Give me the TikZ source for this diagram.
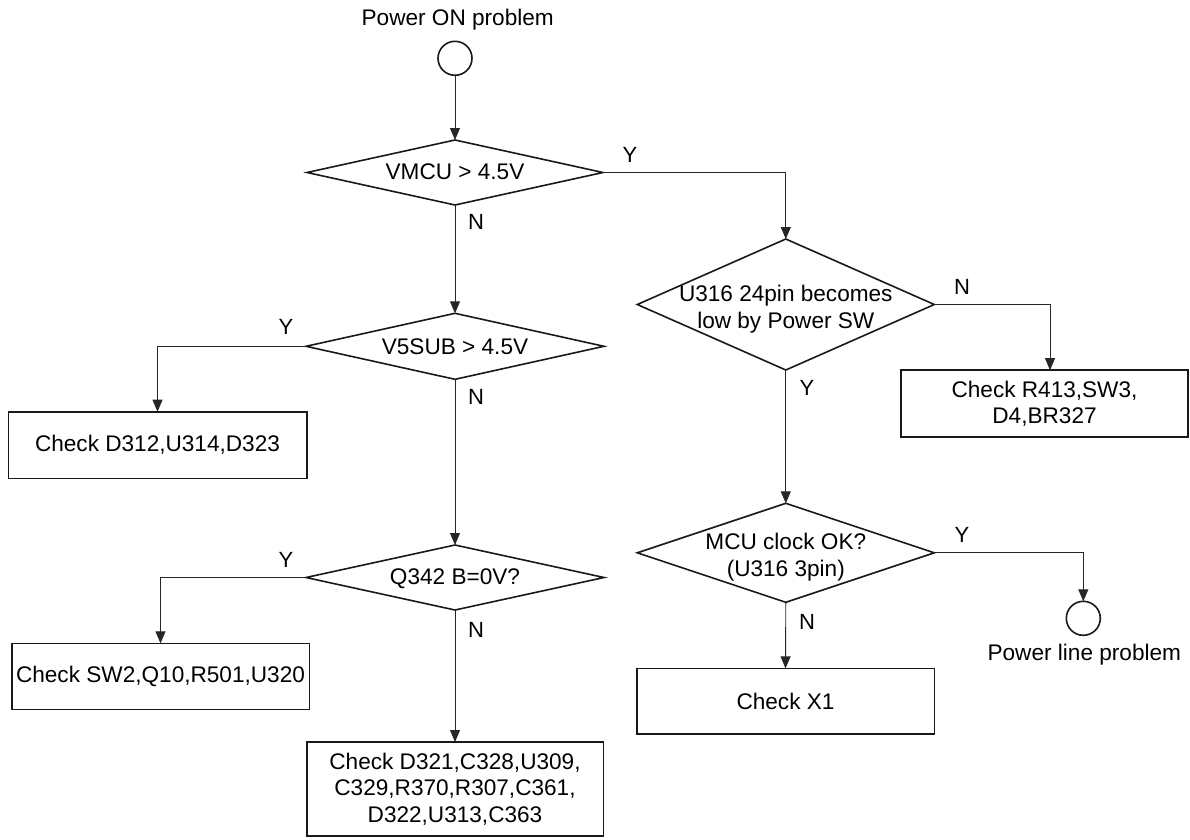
\documentclass[tikz,border=0pt]{standalone}
\usepackage{fontspec}
\setmainfont{Liberation Sans}
\usetikzlibrary{shapes.geometric,arrows.meta}
\newcommand\myfs{\fontsize{22.6}{26.5}\selectfont}
\newcommand\mylbl{\fontsize{22}{26}\selectfont}
\begin{document}
\begin{tikzpicture}[x=1pt,y=-1pt,
  base/.style={draw=black!90, line width=1.6pt, outer sep=0pt, inner sep=0pt},
  dia/.style={base, diamond},
  box/.style={base, rectangle, align=center, font=\myfs},
  term/.style={base, circle, minimum size=34},
  txt/.style={align=center, font=\myfs, inner sep=0pt},
  lbl/.style={font=\mylbl, inner sep=0pt},
  arr/.style={draw=black!85, line width=0.9pt, -{Triangle[length=12pt,width=10pt]}}]
\useasboundingbox (0,0) rectangle (1190,839);
% terminals
\node[txt] (tstart) at (457.7,20) {Power ON problem};
\node[term] (start) at (455,58.3) {};
\node[term] (endp) at (1083.3,618.3) {};
\node[txt] (tend) at (1084.3,655) {Power line problem};
% decisions
\node[dia, minimum width=296, minimum height=65] (d1) at (455,172.5) {};
\node[txt] (t1) at (455,172) {VMCU > 4.5V};
\node[dia, minimum width=297, minimum height=131] (d2) at (785.8,304.5) {};
\node[txt] (t2) at (785.8,309) {U316 24pin becomes\\low by Power SW};
\node[dia, minimum width=298, minimum height=66] (d3) at (455,346.3) {};
\node[txt] (t3) at (455,346.7) {V5SUB > 4.5V};
\node[dia, minimum width=298, minimum height=65] (d4) at (455,577.5) {};
\node[txt] (t4) at (455,578.3) {Q342 B=0V?};
\node[dia, minimum width=297, minimum height=99] (d5) at (785.8,552.8) {};
\node[txt] (t5) at (785.8,557.3) {MCU clock OK?\\(U316 3pin)};
% process boxes
\node[box, minimum width=298.4, minimum height=66.6] (b1) at (157.5,445) {Check D312,U314,D323};
\node[box, minimum width=297.6, minimum height=66] (b2) at (160.5,676.3) {Check SW2,Q10,R501,U320};
\node[box, minimum width=296.6, minimum height=94] (b3) at (455,789) {Check D321,C328,U309,\\C329,R370,R307,C361,\\D322,U313,C363};
\node[box, minimum width=287, minimum height=66.7] (b4) at (1044.5,403.5) {Check R413,SW3,\\D4,BR327};
\node[box, minimum width=297.6, minimum height=65.7] (b5) at (785.5,701.2) {Check X1};
% connectors
\draw[arr] (start.south) -- (d1.north);
\draw[arr] (d1.east) -| (d2.north);
\draw[arr] (d1.south) -- (d3.north);
\draw[arr] (d3.west) -| (b1.north);
\draw[arr] (d3.south) -- (d4.north);
\draw[arr] (d4.west) -| (b2.north);
\draw[arr] (d4.south) -- (b3.north);
\draw[arr] (d2.east) -| ([xshift=5.5pt]b4.north);
\draw[arr] (d2.south) -- (d5.north);
\draw[arr] (d5.east) -| (endp.north);
\draw[arr] (d5.south) -- (b5.north);
% branch labels
\node[lbl] (y1) at (630,155) {Y};
\node[lbl] (n1) at (476,222) {N};
\node[lbl] (y3) at (286,327) {Y};
\node[lbl] (n3) at (476,397) {N};
\node[lbl] (y4) at (286,560) {Y};
\node[lbl] (n4) at (476,630) {N};
\node[lbl] (n2) at (962,287) {N};
\node[lbl] (y2) at (807,388) {Y};
\node[lbl] (y5) at (962,535) {Y};
\node[lbl] (n5) at (807,622) {N};
\end{tikzpicture}
\end{document}
